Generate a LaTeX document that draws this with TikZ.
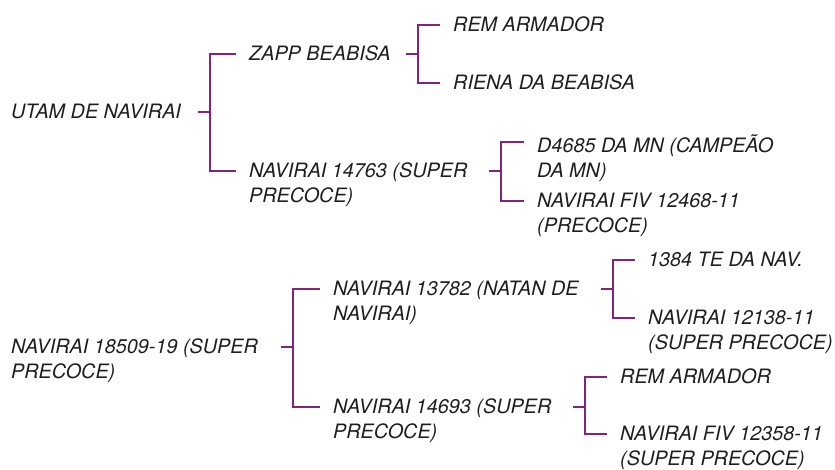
\documentclass[tikz,border=0pt]{standalone}
\usepackage{fontspec}
\setmainfont{TeX Gyre Heros}
\usetikzlibrary{calc}
\definecolor{forkpurple}{RGB}{130,35,125}
\definecolor{namegray}{RGB}{30,30,30}
\newcommand\fork[4]{\draw[forkline] let \p1=(#1.north), \p2=(#2.north west), \p3=(#3.north west) in (#4pt-12pt,\y1-8pt) -- (#4pt,\y1-8pt) (\x2-13pt,\y2-8pt) -| (#4pt,\y3-8pt) -- (\x3-13pt,\y3-8pt);}

\begin{document}
\begin{tikzpicture}[x=1pt, y=1pt,
  animal/.style={anchor=north west, inner sep=0pt, align=left, text=namegray, font=\fontsize{19.8}{25}\selectfont\itshape},
  forkline/.style={line width=2.2pt, draw=forkpurple}]
\useasboundingbox (0,0) rectangle (835,470);

% first pedigree
\node[animal] (utam) at (11,366) {UTAM DE NAVIRAI};
\node[animal] (zapp) at (249,424) {ZAPP BEABISA};
\node[animal] (nav14763) at (249,307) {NAVIRAI 14763 (SUPER\\PRECOCE)};
\node[animal] (remA) at (453,453) {REM ARMADOR};
\node[animal] (riena) at (453,395) {RIENA DA BEABISA};
\node[animal] (d4685) at (537,336) {D4685 DA MN (CAMPEÃO\\DA MN)};
\node[animal] (fivA) at (537,277) {NAVIRAI FIV 12468-11\\(PRECOCE)};

% second pedigree
\node[animal] (nav18509) at (11,131) {NAVIRAI 18509-19 (SUPER\\PRECOCE)};
\node[animal] (nav13782) at (333,189) {NAVIRAI 13782 (NATAN DE\\NAVIRAI)};
\node[animal] (nav14693) at (333,71) {NAVIRAI 14693 (SUPER\\PRECOCE)};
\node[animal] (te1384) at (648,218) {1384 TE DA NAV.};
\node[animal] (nav12138) at (648,160) {NAVIRAI 12138-11\\(SUPER PRECOCE)};
\node[animal] (remB) at (620,101) {REM ARMADOR};
\node[animal] (fivB) at (620,44) {NAVIRAI FIV 12358-11\\(SUPER PRECOCE)};

\fork{utam}{zapp}{nav14763}{210};
\fork{zapp}{remA}{riena}{418};
\fork{nav14763}{d4685}{fivA}{501};
\fork{nav18509}{nav13782}{nav14693}{293};
\fork{nav13782}{te1384}{nav12138}{613};
\fork{nav14693}{remB}{fivB}{585};

\end{tikzpicture}
\end{document}
